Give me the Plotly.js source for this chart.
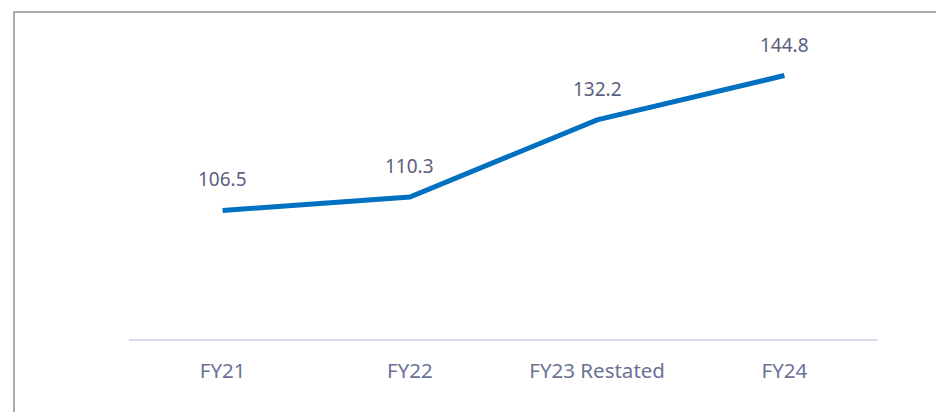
<!DOCTYPE html>
<html>
<head>
<meta charset="utf-8">
<script src="https://cdn.plot.ly/plotly-3.0.1.min.js"></script>
<style>
  html, body { margin: 0; padding: 0; background: #fff; }
  #wrap { position: relative; width: 936px; height: 412px; overflow: hidden; }
  #chart { position: absolute; left: 0; top: 0; width: 936px; height: 412px; }
  #frame { position: absolute; left: 13px; top: 11px; width: 940px; height: 420px;
           border-top: 2px solid #aaaaaa; border-left: 2px solid #aaaaaa; pointer-events: none; }
</style>
</head>
<body>
<div id="wrap">
  <div id="chart"></div>
  <div id="frame"></div>
</div>
<script>
const categories = ["FY21", "FY22", "FY23 Restated", "FY24"];
const values = [106.5, 110.3, 132.2, 144.8];
const valueLabels = ["106.5", "110.3", "132.2", "144.8"];

const trace = {
  x: categories,
  y: values,
  type: "scatter",
  mode: "lines",
  line: { color: "#0070c0", width: 5 },
  hoverinfo: "skip"
};

const annotations = categories.map((c, i) => ({
  x: c, y: values[i], xref: "x", yref: "y",
  text: valueLabels[i], showarrow: false, yshift: 31,
  font: { family: "Noto Sans, sans-serif", size: 19, color: "#5b5f7e" }
}));

const layout = {
  width: 936, height: 412,
  margin: { l: 129, r: 58, t: 21.7, b: 73 },
  paper_bgcolor: "#ffffff", plot_bgcolor: "#ffffff",
  showlegend: false,
  xaxis: {
    type: "category", range: [-0.5, 3.5],
    showgrid: false, zeroline: false,
    showline: true, linecolor: "#d9dbe6", linewidth: 2,
    ticks: "", ticklen: 0, ticklabelstandoff: 12,
    tickfont: { family: "Noto Sans, sans-serif", size: 20.5, color: "#6b7296" },
    fixedrange: true
  },
  yaxis: {
    range: [70, 160], visible: false, showgrid: false, zeroline: false, fixedrange: true
  },
  annotations: annotations
};

Plotly.newPlot("chart", [trace], layout, { displayModeBar: false, staticPlot: true });
</script>
</body>
</html>
